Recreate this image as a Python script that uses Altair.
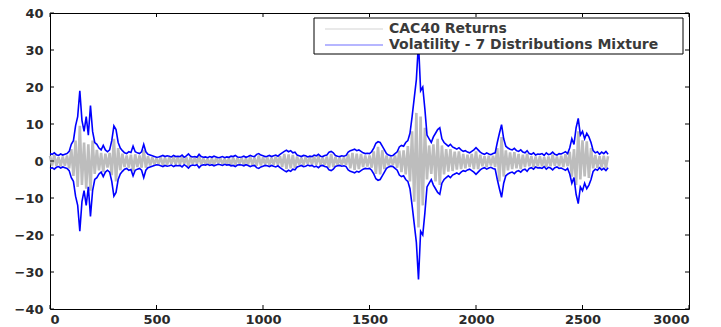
import altair as alt
import pandas as pd

# ---- data (values every 10 trading days) ----
vol = [
    2.0, 1.8, 2.2, 1.7, 1.5, 1.9, 1.6, 1.8, 2.0, 2.6,
    4.5, 5.5, 9.5, 12, 19, 11, 8, 12, 7, 15,
    8, 5, 4.5, 3.5, 3, 4.2, 3, 2.5, 3, 5.5,
    9.5, 8.5, 5, 3.5, 2.8, 2.2, 2, 2.5, 2.3, 4,
    2.5, 2.2, 2, 2.5, 4.5, 2.5, 1.8, 1.6, 1.4, 1.2,
    1.0, 1.1, 1.3, 1.5, 1.2, 1.4, 1.3, 1.1, 1.5, 1.2,
    1.3, 1.2, 1.6, 1.0, 1.4, 1.9, 1.3, 1.1, 1.2, 1.0,
    1.8, 1.2, 1.0, 1.1, 0.9, 1.2, 1.0, 1.3, 1.1, 0.9,
    1.0, 1.2, 0.9, 1.1, 1.0, 1.3, 1.2, 1.5, 1.1, 1.0,
    1.1, 1.3, 1.0, 1.2, 1.5, 1.3, 1.2, 1.8, 2.0, 1.6,
    1.4, 1.2, 1.3, 1.5, 1.2, 1.4, 1.6, 1.3, 1.8, 2.2,
    2.6, 2.9, 2.5, 2.8, 2.2, 2.4, 1.6, 1.4, 1.2, 1.5,
    1.4, 1.1, 1.3, 1.2, 1.6, 1.4, 1.8, 1.3, 1.2, 1.5,
    1.6, 2.4, 2.6, 2.2, 1.5, 1.3, 1.2, 1.4, 1.3, 1.5,
    2.4, 2.8, 3.0, 3.2, 2.8, 3.0, 2.6, 2.2, 2.0, 2.1,
    2.0, 2.5, 3.5, 4.8, 5.2, 5.0, 4.0, 3.0, 2.0, 1.6,
    1.4, 1.5, 2.0, 2.5, 3.8, 4.2, 4.0, 5.0, 5.5, 7.5,
    12, 17, 22, 32, 19, 20, 14, 7, 6, 5,
    6.5, 7.5, 8.5, 9, 6, 5, 4.5, 4, 4.5, 3.8,
    3.5, 3.2, 3.6, 3.0, 2.6, 2.8, 2.4, 2.2, 2.6, 3.0,
    3.6, 3.0, 2.4, 2.0, 1.8, 2.2, 1.9, 1.7, 2.0, 2.2,
    5.0, 7.5, 9.8, 6.0, 4.0, 3.5, 3.2, 3.0, 3.4, 2.8,
    2.6, 3.0, 2.4, 2.2, 2.8, 2.0, 1.8, 2.2, 1.6, 1.9,
    1.8, 2.0, 1.5, 2.2, 1.7, 1.9, 2.4, 1.8, 1.6, 2.0,
    1.9, 2.2, 2.5, 2.0, 3.5, 6.0, 4.5, 9.0, 11.5, 7.0,
    8.0, 6.0, 7.5, 6.5, 5.0, 2.8, 2.2, 2.5, 1.8, 2.4,
    2.0, 2.6, 1.8,
]

returns = [
    1.4, -1.2, 1.6, -1.3, 1.1, -1.4, 1.2, -1.3, 1.5, -2.0,
    3.2, -4.0, 5.5, -7.0, 9.5, -6.5, 5.0, -7.5, 4.5, -8.0,
    5.5, -3.5, 3.0, -2.5, 2.2, -3.0, 2.0, -1.8, 2.2, -3.8,
    6.0, -5.5, 3.5, -2.5, 2.0, -1.6, 1.5, -1.8, 1.7, -2.8,
    1.8, -1.6, 1.5, -1.8, 3.0, -1.8, 1.3, -1.2, 1.0, -0.9,
    0.7, -0.8, 1.0, -1.1, 0.9, -1.0, 1.0, -0.8, 1.1, -0.9,
    1.0, -0.9, 1.2, -0.7, 1.0, -1.4, 1.0, -0.8, 0.9, -0.7,
    1.3, -0.9, 0.7, -0.8, 0.6, -0.9, 0.7, -1.0, 0.8, -0.6,
    0.7, -0.9, 0.6, -0.8, 0.7, -1.0, 0.9, -1.1, 0.8, -0.7,
    0.8, -1.0, 0.7, -0.9, 1.1, -1.0, 0.9, -1.3, 1.5, -1.2,
    1.0, -0.9, 1.0, -1.1, 0.9, -1.0, 1.2, -1.0, 1.3, -1.6,
    1.9, -2.1, 1.8, -2.0, 1.6, -1.8, 1.2, -1.0, 0.9, -1.1,
    1.0, -0.8, 1.0, -0.9, 1.2, -1.0, 1.3, -1.0, 0.9, -1.1,
    1.2, -1.8, 1.9, -1.6, 1.1, -1.0, 0.9, -1.0, 1.0, -1.1,
    1.8, -2.0, 2.2, -2.4, 2.0, -2.2, 1.9, -1.6, 1.5, -1.5,
    1.5, -1.8, 2.6, -3.5, 3.8, -3.6, 2.9, -2.2, 1.5, -1.2,
    1.0, -1.1, 1.5, -1.8, 2.8, -3.0, 2.9, -3.6, 4.0, -5.5,
    8.0, -11, 13, -18, 12, -12, 9.0, -5.0, 4.2, -3.5,
    4.5, -5.5, 6.0, -6.5, 4.2, -3.6, 3.2, -2.9, 3.2, -2.7,
    2.5, -2.3, 2.6, -2.2, 1.9, -2.0, 1.7, -1.6, 1.9, -2.2,
    2.6, -2.2, 1.7, -1.4, 1.3, -1.6, 1.4, -1.2, 1.4, -1.6,
    3.5, -5.5, 6.5, -4.2, 2.9, -2.5, 2.3, -2.2, 2.4, -2.0,
    1.9, -2.2, 1.7, -1.6, 2.0, -1.4, 1.3, -1.6, 1.2, -1.4,
    1.3, -1.4, 1.1, -1.6, 1.2, -1.4, 1.7, -1.3, 1.2, -1.4,
    1.4, -1.6, 1.8, -1.4, 2.5, -4.2, 3.2, -6.5, 8.0, -5.0,
    5.6, -4.2, 5.3, -4.6, 3.5, -2.0, 1.6, -1.8, 1.3, -1.7,
    1.4, -1.9, 1.3,
]

days = list(range(0, 10 * len(vol), 10))
x_ticks = [0, 500, 1000, 1500, 2000, 2500, 3000]
y_ticks = [-40, -30, -20, -10, 0, 10, 20, 30, 40]
legend_labels = ["CAC40 Returns", "Volatility - 7 Distributions Mixture"]

W, H = 639, 296
FONT = "DejaVu Sans"

df = pd.DataFrame({"day": days, "vol": vol, "neg": [-v for v in vol], "ret": returns})

xs = alt.Scale(domain=[0, 3000], nice=False, zero=False)
ys = alt.Scale(domain=[-40, 40], nice=False, zero=False)

xaxis = alt.Axis(values=x_ticks, format="d", title=None, domain=False, ticks=False, grid=False,
                 labelFont=FONT, labelFontSize=13, labelFontWeight="bold", labelColor="#2a2a2a",
                 labelPadding=4, labelOverlap=False)
yaxis = alt.Axis(values=y_ticks, format="d", title=None, domain=False, ticks=False, grid=False,
                 labelFont=FONT, labelFontSize=13, labelFontWeight="bold", labelColor="#2a2a2a",
                 labelPadding=7, labelOverlap=False)

base = alt.Chart(df)

ret_line = base.mark_line(color="#bdbdbd", strokeWidth=2.6, strokeJoin="bevel").encode(
    x=alt.X("day:Q", scale=xs, axis=xaxis),
    y=alt.Y("ret:Q", scale=ys, axis=yaxis),
)
vol_up = base.mark_line(color="#0000ff", strokeWidth=1.6).encode(
    x=alt.X("day:Q", scale=xs, axis=xaxis), y=alt.Y("vol:Q", scale=ys, axis=yaxis)
)
vol_lo = base.mark_line(color="#0000ff", strokeWidth=1.6).encode(
    x=alt.X("day:Q", scale=xs, axis=xaxis), y=alt.Y("neg:Q", scale=ys, axis=yaxis)
)

xt = alt.Chart(pd.DataFrame({"t": x_ticks}))
yt = alt.Chart(pd.DataFrame({"t": y_ticks}))
tick_bottom = xt.mark_rule(color="black").encode(
    x=alt.X("t:Q", scale=xs, axis=xaxis), y=alt.value(H), y2=alt.value(H - 4))
tick_top = xt.mark_rule(color="black").encode(
    x=alt.X("t:Q", scale=xs, axis=xaxis), y=alt.value(0), y2=alt.value(4))
tick_left = yt.mark_rule(color="black").encode(
    y=alt.Y("t:Q", scale=ys, axis=yaxis), x=alt.value(0), x2=alt.value(4))
tick_right = yt.mark_rule(color="black").encode(
    y=alt.Y("t:Q", scale=ys, axis=yaxis), x=alt.value(W), x2=alt.value(W - 4))

# legend box in the upper right like the MATLAB original
one = pd.DataFrame({"a": [0]})
leg_box = alt.Chart(one).mark_rect(
    fill="white", stroke="black", strokeWidth=1).encode(
    x=alt.value(264), x2=alt.value(633), y=alt.value(5), y2=alt.value(41))
leg_l1 = alt.Chart(one).mark_rule(color="#d4d4d4", strokeWidth=1.2).encode(
    x=alt.value(275), x2=alt.value(333), y=alt.value(16))
leg_l2 = alt.Chart(one).mark_rule(color="#6f6fff", strokeWidth=1.2).encode(
    x=alt.value(275), x2=alt.value(333), y=alt.value(32))
leg_t1 = alt.Chart(one).mark_text(
    align="left", baseline="middle", font=FONT, fontSize=14, fontWeight="bold", color="#3a3a3a").encode(
    x=alt.value(339), y=alt.value(16), text=alt.value(legend_labels[0]))
leg_t2 = alt.Chart(one).mark_text(
    align="left", baseline="middle", font=FONT, fontSize=14, fontWeight="bold", color="#3a3a3a").encode(
    x=alt.value(339), y=alt.value(32), text=alt.value(legend_labels[1]))

chart = alt.layer(
    ret_line, vol_up, vol_lo,
    tick_bottom, tick_top, tick_left, tick_right,
    leg_box, leg_l1, leg_l2, leg_t1, leg_t2,
).properties(
    width=W, height=H,
    autosize=alt.AutoSizeParams(type="none"),
    padding={"left": 50, "top": 13, "right": 32, "bottom": 18},
    background="white",
).configure_view(stroke="black", strokeWidth=1).configure_axis(labelOverlap=False)

chart.save("out.html", embed_options={"renderer": "svg", "actions": False})
